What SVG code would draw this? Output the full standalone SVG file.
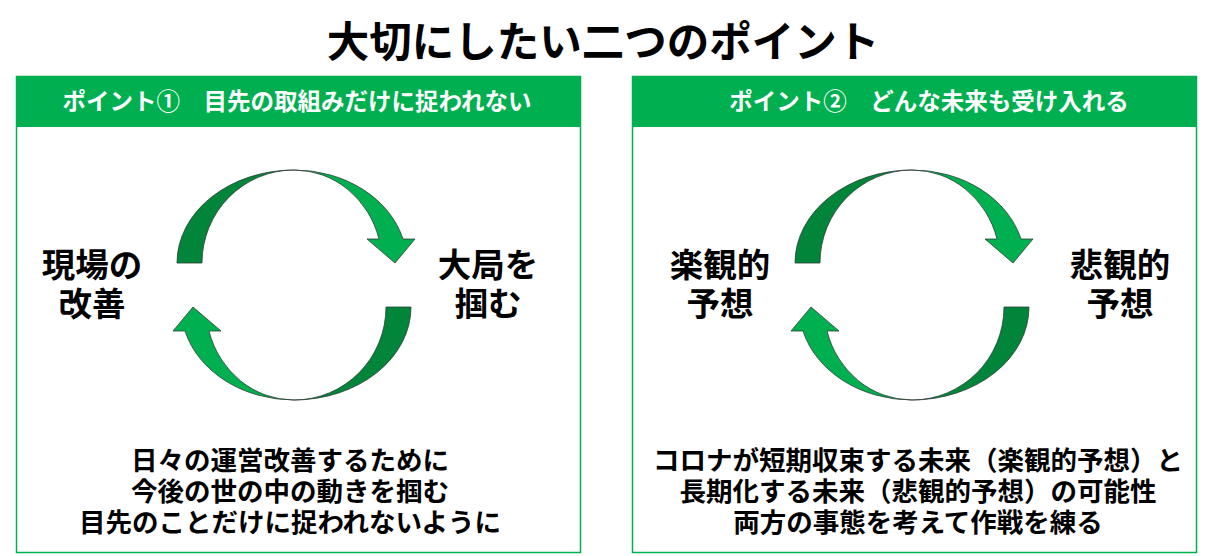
<svg xmlns="http://www.w3.org/2000/svg" width="1212" height="556" viewBox="0 0 1212 556">
<defs>
<style>
text{font-family:"Noto Sans CJK JP","Noto Sans CJK SC",sans-serif;font-weight:bold;text-anchor:middle;}
.title{font-size:42.5px;fill:#000;}
.hdr{font-size:23.5px;fill:#fff;}
.lbl{font-size:33.5px;fill:#000;}
.body{font-size:26.5px;fill:#000;}
.panel{fill:#fff;stroke:#00b050;stroke-width:1.5;}
.hbar{fill:#00b050;}
.dark{fill:#00853a;stroke:#2f3f35;stroke-width:0.8;}
.light{fill:#00b050;stroke:#2f3f35;stroke-width:0.8;}
</style>
<g id="arc">
<path class="dark" d="M -117,-22 A 117 93 0 0 1 0,-115 A 92 93 0 0 0 -92,-22 Z"/>
<path class="light" d="M 0,-115 A 113 93 0 0 1 109,-46 L 121,-46 L 101,-22 L 73,-46 L 85,-46 A 88 93 0 0 0 0,-115 Z"/>
</g>
</defs>
<rect width="1212" height="556" fill="#fff"/>
<text id="title" class="title" x="603" y="57">大切にしたい二つのポイント</text>

<g id="panel1">
<rect class="panel" x="16.5" y="76.5" width="564" height="476"/>
<rect class="hbar" x="16" y="76" width="565" height="51"/>
<text class="hdr" x="297" y="110">ポイント①　目先の取組みだけに捉われない</text>
</g>
<g id="panel2">
<rect class="panel" x="632.5" y="76.5" width="564" height="476"/>
<rect class="hbar" x="632" y="76" width="565" height="51"/>
<text class="hdr" x="929" y="110">ポイント②　どんな未来も受け入れる</text>
</g>

<g id="connectors">
<use href="#arc" transform="translate(294,285)"/>
<use href="#arc" transform="translate(294,285) rotate(180)"/>
<use href="#arc" transform="translate(912,285)"/>
<use href="#arc" transform="translate(912,285) rotate(180)"/>
</g>

<g id="node-genba">
<text class="lbl" x="92" y="277">現場の</text>
<text class="lbl" x="92" y="316">改善</text>
</g>
<g id="node-taikyoku">
<text class="lbl" x="488" y="277">大局を</text>
<text class="lbl" x="488" y="316">掴む</text>
</g>
<g id="node-rakkan">
<text class="lbl" x="720" y="277">楽観的</text>
<text class="lbl" x="720" y="316">予想</text>
</g>
<g id="node-hikan">
<text class="lbl" x="1120" y="277">悲観的</text>
<text class="lbl" x="1120" y="316">予想</text>
</g>

<g id="note1">
<text class="body" x="290" y="470">日々の運営改善するために</text>
<text class="body" x="290" y="501">今後の世の中の動きを掴む</text>
<text class="body" x="290" y="532">目先のことだけに捉われないように</text>
</g>
<g id="note2">
<text class="body" x="918" y="470">コロナが短期収束する未来（楽観的予想）と</text>
<text class="body" x="918" y="501">長期化する未来（悲観的予想）の可能性</text>
<text class="body" x="918" y="532">両方の事態を考えて作戦を練る</text>
</g>
</svg>
